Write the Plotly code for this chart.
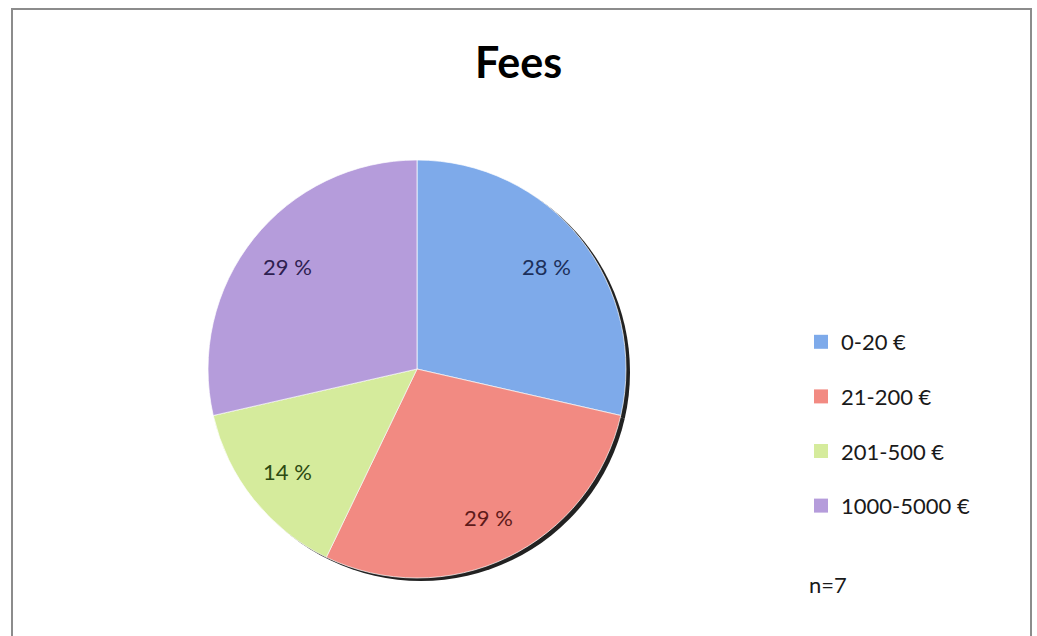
import math
import plotly.graph_objects as go

# ---- data ----
categories = ["0-20 €", "21-200 €", "201-500 €", "1000-5000 €"]
counts = [2, 2, 1, 2]
pct_labels = ["28 %", "29 %", "14 %", "29 %"]
title_text = "Fees"
note_text = "n=7"

# ---- styles ----
slice_colors = ["#7eaaea", "#f28a82", "#d5eb9c", "#b59cdb"]
label_colors = ["#1c2f5a", "#5e1a1a", "#2c4a12", "#2e2050"]
FONT = "Lato, 'Open Sans', sans-serif"

W, H = 1037, 636
cx, cy, R = 417, 369, 209  # pie centre / radius in pixels

def px_to_paper(x, y):
    return x / W, 1 - y / H

dx0, dy1 = px_to_paper(cx - R, cy - R)
dx1, dy0 = px_to_paper(cx + R, cy + R)

fig = go.Figure()

# shadow pie (3D edge effect)
sx, sy = 4 / W, 3 / H
fig.add_trace(go.Pie(
    values=counts, labels=categories, sort=False, direction="clockwise", rotation=0,
    domain=dict(x=[dx0 + sx, dx1 + sx], y=[dy0 - sy, dy1 - sy]),
    marker=dict(colors=["#222222"] * len(counts), line=dict(width=0)),
    textinfo="none", hoverinfo="skip", showlegend=False,
))

# main pie
fig.add_trace(go.Pie(
    values=counts, labels=categories, sort=False, direction="clockwise", rotation=0,
    domain=dict(x=[dx0, dx1], y=[dy0, dy1]),
    marker=dict(colors=slice_colors, line=dict(color="rgba(255,255,255,0.7)", width=1)),
    textinfo="none", hoverinfo="label+value", showlegend=False,
))

# legend entries (square markers)
for i, (cat, col) in enumerate(zip(categories, slice_colors)):
    fig.add_trace(go.Scatter(
        x=[None], y=[None], mode="markers", name=cat, legendgroup=f"g{i}",
        marker=dict(symbol="square", size=14, color=col),
        showlegend=True, hoverinfo="skip",
    ))

# percentage labels placed inside slices
total = sum(counts)
annotations = []
cum = 0
for v, lab, col in zip(counts, pct_labels, label_colors):
    mid = (cum + v / 2) / total * 2 * math.pi
    cum += v
    r = 0.79 * R
    px = cx + r * math.sin(mid)
    py = cy - r * math.cos(mid)
    ax, ay = px_to_paper(px, py)
    annotations.append(dict(x=ax, y=ay, xref="paper", yref="paper", text=lab,
                            xanchor="center", yanchor="middle", showarrow=False,
                            font=dict(family=FONT, size=22, color=col)))

nx, ny = px_to_paper(807, 584)
annotations.append(dict(x=nx, y=ny, xref="paper", yref="paper", text=note_text,
                        xanchor="left", yanchor="middle", showarrow=False,
                        font=dict(family=FONT, size=22, color="#1a1a1a")))

bx0, by1 = px_to_paper(12, 9)
bx1, _ = px_to_paper(1031, 0)

fig.update_layout(
    width=W, height=H,
    margin=dict(l=0, r=0, t=0, b=0),
    paper_bgcolor="white", plot_bgcolor="white",
    title=dict(text=title_text, x=0.5, xanchor="center", y=1 - 63 / H, yanchor="middle",
               font=dict(family=FONT, size=43, color="#000000", weight="bold")),
    xaxis=dict(visible=False), yaxis=dict(visible=False),
    legend=dict(x=801 / W, xanchor="left", y=1 - 321 / H, yanchor="top",
                font=dict(family=FONT, size=22, color="#1a1a1a"),
                tracegroupgap=23, bgcolor="rgba(0,0,0,0)"),
    annotations=annotations,
    shapes=[dict(type="rect", xref="paper", yref="paper", x0=bx0, x1=bx1, y0=-0.05, y1=by1,
                 line=dict(color="#8c8c8c", width=2), fillcolor="rgba(0,0,0,0)")],
    showlegend=True,
)

fig.write_html("out.html")
